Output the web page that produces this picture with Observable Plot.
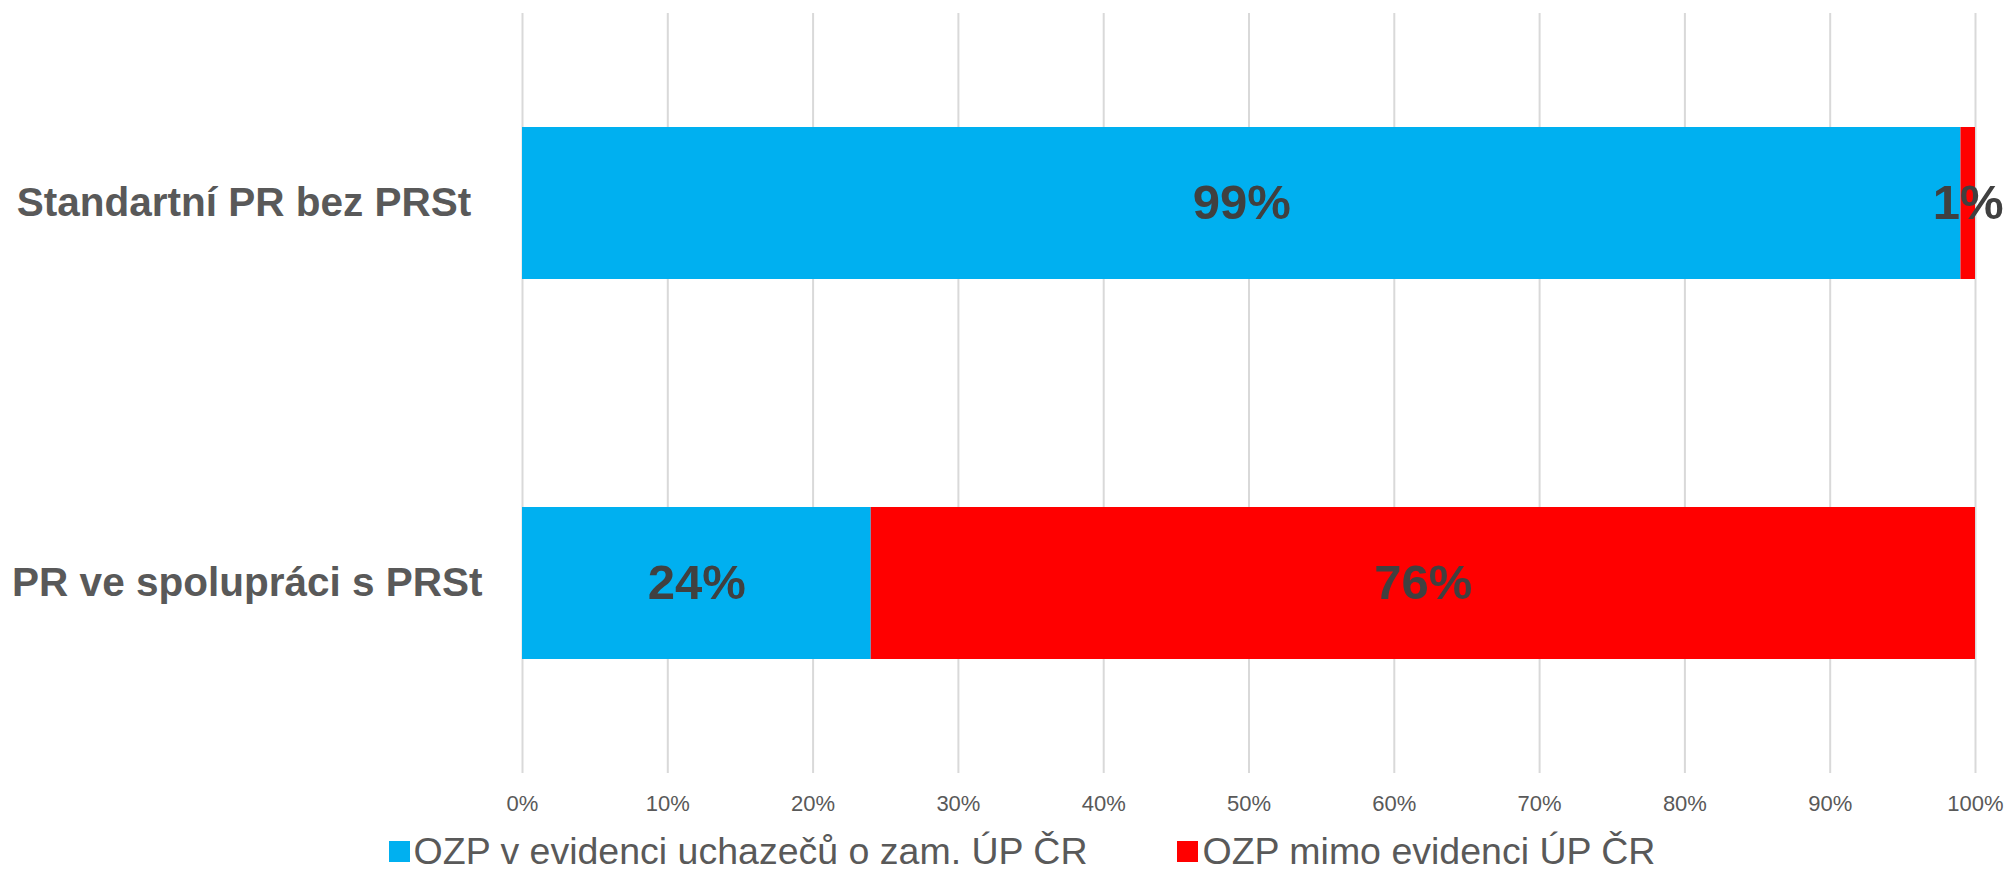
<!DOCTYPE html>
<html>
<head>
<meta charset="utf-8">
<script src="https://cdn.jsdelivr.net/npm/d3@7"></script>
<script src="https://cdn.jsdelivr.net/npm/@observablehq/plot@0.6"></script>
<style>
  html, body { margin: 0; padding: 0; background: #fff; }
  #chart svg { display: block; }
  .legend { display: flex; justify-content: center; gap: 90px; font-family: "Liberation Sans", Arial, sans-serif; font-size: 37.5px; color: #595959; margin-top: 8px; padding-left: 34px; }
  .legend .item { display: flex; align-items: center; }
  .legend .sw { width: 21px; height: 21px; margin-right: 4px; display: inline-block; }
</style>
</head>
<body>
<div id="chart"></div>
<script>
const categories = ["Standartní PR bez PRSt ", "PR ve spolupráci s PRSt"];
const seriesNames = ["OZP v evidenci uchazečů o zam. ÚP ČR", "OZP mimo evidenci ÚP ČR"];
const seriesColors = ["#00B0F0", "#FF0000"];
const inEvidence = [99, 24];
const outsideEvidence = [1, 76];
const xTicks = [0, 10, 20, 30, 40, 50, 60, 70, 80, 90, 100];

const rows = [];
categories.forEach((c, i) => {
  rows.push({category: c, series: seriesNames[0], value: inEvidence[i]});
  rows.push({category: c, series: seriesNames[1], value: outsideEvidence[i]});
});

const W = 2010, H = 822;
const plot = Plot.plot({
  width: W,
  height: H,
  marginLeft: 522,
  marginRight: 35,
  marginTop: 13,
  marginBottom: 49,
  style: {background: "transparent"},
  x: {domain: [0, 100], ticks: xTicks, tickFormat: d => d + "%"},
  y: {domain: categories, paddingInner: 0.6, paddingOuter: 0.3},
  color: {domain: seriesNames, range: seriesColors},
  marks: [
    Plot.gridX(xTicks, {stroke: "#d9d9d9", strokeOpacity: 1, strokeWidth: 2}),
    Plot.barX(rows, Plot.stackX({x: "value", y: "category", fill: "series", order: seriesNames, inset: 0})),
    Plot.text(rows, Plot.stackX({x: "value", y: "category", z: "series", order: seriesNames, text: d => d.value + "%", fill: "#404040", fontSize: 49, fontWeight: "bold", fontFamily: "Liberation Sans, Arial, sans-serif"})),
    Plot.axisX(xTicks, {tickSize: 0, tickPadding: 22, tickFormat: d => d + "%", fontSize: 22, fill: "#595959", fontFamily: "Liberation Sans, Arial, sans-serif", label: null}),
    Plot.axisY({tickSize: 0, tickPadding: 40, fontSize: 40.5, fontWeight: "bold", fill: "#595959", fontFamily: "'Liberation Sans', Arial, sans-serif", label: null, tickFormat: d => d.replace(/ $/, "\u00a0")})
  ]
});
document.getElementById("chart").appendChild(plot);

const legend = document.createElement("div");
legend.className = "legend";
seriesNames.forEach((s, i) => {
  const it = document.createElement("div");
  it.className = "item";
  const sw = document.createElement("span");
  sw.className = "sw";
  sw.style.background = seriesColors[i];
  const t = document.createElement("span");
  t.textContent = s;
  it.appendChild(sw);
  it.appendChild(t);
  legend.appendChild(it);
});
document.body.appendChild(legend);
</script>
</body>
</html>
